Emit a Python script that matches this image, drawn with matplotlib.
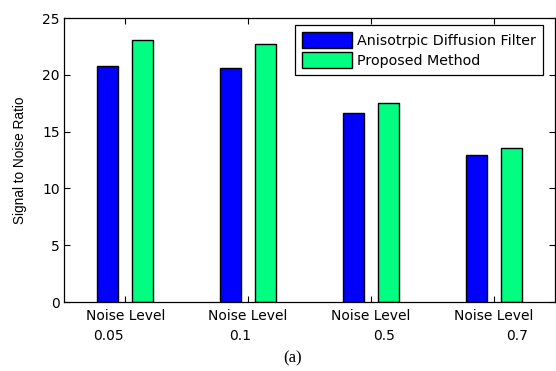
import matplotlib
matplotlib.use("Agg")
import matplotlib.pyplot as plt
import numpy as np

# Data
categories = ["Noise Level", "Noise Level", "Noise Level", "Noise Level"]
noise_levels = ["0.05", "0.1", "0.5", "0.7"]
series_names = ["Anisotrpic Diffusion Filter", "Proposed Method"]
anisotropic = [20.8, 20.6, 16.6, 12.9]
proposed = [23.1, 22.7, 17.5, 13.6]
y_ticks = [0, 5, 10, 15, 20, 25]

# Horizontal shift (points) of the noise-level line under each tick
level_offsets = [-12.5, -5.8, 9.4, 16.6]

colors = ["#0000FF", "#00FF80"]

fig = plt.figure(figsize=(5.56, 3.71), dpi=100)
ax = fig.add_axes([64 / 556, 69 / 371, 491 / 556, 284 / 371])

x = np.arange(1, len(categories) + 1)
offset = 0.143
width = 0.172
ax.bar(x - offset, anisotropic, width, color=colors[0], edgecolor="black",
       linewidth=1.0, label=series_names[0], zorder=2)
ax.bar(x + offset, proposed, width, color=colors[1], edgecolor="black",
       linewidth=1.0, label=series_names[1], zorder=2)

ax.set_xlim(0.5, 4.5)
ax.set_ylim(0, 25)
ax.set_yticks(y_ticks)
ax.set_xticks(x)
ax.set_xticklabels(categories)

for spine in ax.spines.values():
    spine.set_linewidth(0.9)
    spine.set_color("black")

ax.tick_params(axis="both", direction="in", length=4.5, width=0.8,
               top=True, right=True, labelsize=10, colors="black")
ax.tick_params(axis="x", pad=5)
ax.tick_params(axis="y", pad=3)

for xi, lvl, dx in zip(x, noise_levels, level_offsets):
    ax.annotate(lvl, xy=(xi, 0), xycoords=("data", "axes fraction"),
                xytext=(dx, -24.5), textcoords="offset points",
                ha="center", va="center", fontsize=10)

ax.set_ylabel("Signal to Noise Ratio", family="Liberation Sans",
              fontsize=9.8)
ax.yaxis.set_label_coords(-0.075, 0.5)

leg = ax.legend(loc="upper right", bbox_to_anchor=(0.9756, 0.9754),
                borderaxespad=0, fontsize=10.3, handlelength=3.5,
                handleheight=1.3, handletextpad=0.36, labelspacing=0.32,
                borderpad=0.5, fancybox=False, framealpha=1)
leg.get_frame().set_edgecolor("black")
leg.get_frame().set_linewidth(0.9)

fig.text(292.5 / 556, 1 - 358 / 371, "(a)", family="Liberation Serif",
         fontsize=12, ha="center", va="center")

fig.savefig("out.png", dpi=100)
